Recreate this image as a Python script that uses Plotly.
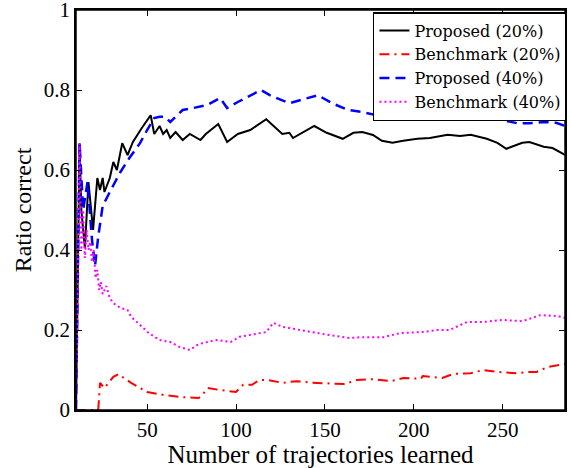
import plotly.graph_objects as go

# Proposed (20%)
p20_x = [10, 12, 13, 15, 17, 18, 19.6, 22, 23.5, 25, 26, 29, 31, 33, 36, 39, 42, 47, 52,
         54, 57, 59, 61, 63, 66, 70, 74, 80, 83, 90, 95, 101, 108, 117, 126, 130, 132,
         144, 151, 160, 166, 171, 177, 182, 188, 194, 202, 209, 219, 226, 232, 241, 247,
         252, 261, 265, 273, 278, 285]
p20_y = [0, 0.667, 0.5, 0.405, 0.57, 0.525, 0.45, 0.58, 0.55, 0.58, 0.545, 0.58, 0.62, 0.6,
         0.667, 0.637, 0.67, 0.705, 0.737, 0.69, 0.71, 0.69, 0.70, 0.68, 0.695, 0.675, 0.69,
         0.675, 0.69, 0.715, 0.67, 0.69, 0.70, 0.727, 0.69, 0.693, 0.68, 0.71, 0.693, 0.678,
         0.693, 0.695, 0.6875, 0.673, 0.668, 0.673, 0.678, 0.68, 0.688, 0.685, 0.688, 0.678,
         0.668, 0.653, 0.668, 0.67, 0.658, 0.655, 0.638]

# Benchmark (20%)
b20_x = [10, 22.5, 23.5, 26, 31, 34, 36, 41, 50, 60, 70, 79, 81, 84, 91, 100, 104, 109, 113,
         118, 126, 134, 143, 153, 161, 168, 177, 187, 194, 204, 205, 216, 222, 232, 239, 247,
         258, 265, 269, 275, 284, 285]
b20_y = [0, 0, 0.068, 0.055, 0.083, 0.09, 0.083, 0.068, 0.045, 0.037, 0.032, 0.03, 0.037,
         0.055, 0.05, 0.045, 0.063, 0.063, 0.075, 0.075, 0.068, 0.072, 0.068, 0.067, 0.065,
         0.075, 0.077, 0.072, 0.08, 0.078, 0.085, 0.08, 0.09, 0.092, 0.1, 0.095, 0.092, 0.095,
         0.095, 0.107, 0.113, 0.115]

# Proposed (40%)
p40_x = [10, 12, 14, 16.5, 19, 20.7, 22.4, 25, 29, 33, 35, 40, 46, 50, 52, 54, 57, 60, 63,
         70, 76, 84, 91, 95, 101, 108, 114, 119, 130, 146, 154, 163, 171, 183, 188, 200,
         207, 216, 230, 239, 250, 258, 265, 273, 280, 285]
p40_y = [0, 0.667, 0.5, 0.57, 0.425, 0.36, 0.43, 0.51, 0.545, 0.58, 0.595, 0.63, 0.667, 0.70,
         0.715, 0.73, 0.733, 0.733, 0.72, 0.75, 0.755, 0.763, 0.78, 0.755, 0.77, 0.787, 0.80,
         0.787, 0.767, 0.787, 0.767, 0.75, 0.745, 0.733, 0.727, 0.733, 0.73, 0.738, 0.73,
         0.742, 0.725, 0.717, 0.717, 0.72, 0.718, 0.71]

# Benchmark (40%)
b40_x = [10, 12, 13, 14, 15, 16, 17, 18, 19, 20, 21, 22, 23, 24, 25, 27, 29, 31, 35, 39, 41,
         46, 51, 57, 63, 68, 74, 78, 81, 89, 97, 102, 112, 117, 121, 126, 136, 146, 153, 164,
         170, 183, 192, 205, 213, 220, 230, 239, 250, 261, 271, 281, 285]
b40_y = [0, 0.667, 0.40, 0.5, 0.38, 0.45, 0.40, 0.42, 0.37, 0.40, 0.33, 0.35, 0.30, 0.32,
         0.29, 0.31, 0.28, 0.267, 0.255, 0.25, 0.233, 0.212, 0.192, 0.175, 0.17, 0.158, 0.15,
         0.162, 0.167, 0.175, 0.17, 0.183, 0.192, 0.195, 0.218, 0.208, 0.2, 0.192, 0.187,
         0.18, 0.182, 0.182, 0.192, 0.195, 0.2, 0.2, 0.22, 0.22, 0.225, 0.222, 0.237, 0.235,
         0.23]

y_ticks = [0, 0.2, 0.4, 0.6, 0.8, 1]
y_labels = ["0", "0.2", "0.4", "0.6", "0.8", "1"]
x_ticks = [50, 100, 150, 200, 250]

FONT = "Liberation Serif"
LEG_FONT = "DejaVu Serif"

fig = go.Figure()
fig.add_trace(go.Scatter(x=p20_x, y=p20_y, mode="lines", name="Proposed (20%)",
                         line=dict(color="black", width=2)))
fig.add_trace(go.Scatter(x=b20_x, y=b20_y, mode="lines", name="Benchmark (20%)",
                         line=dict(color="red", width=2, dash="10px,5px,2px,5px")))
fig.add_trace(go.Scatter(x=p40_x, y=p40_y, mode="lines", name="Proposed (40%)",
                         line=dict(color="blue", width=2.5, dash="10px,6px")))
fig.add_trace(go.Scatter(x=b40_x, y=b40_y, mode="lines", name="Benchmark (40%)",
                         line=dict(color="magenta", width=2, dash="2px,3px")))

axis_common = dict(showgrid=False, zeroline=False, showline=True, linecolor="black",
                   linewidth=1.5, mirror="allticks", ticks="inside", ticklen=6,
                   tickcolor="black", tickwidth=1, ticklabeloverflow="allow",
                   tickfont=dict(family=FONT, size=21, color="black"))

fig.update_xaxes(range=[10, 285], tickvals=x_ticks,
                 title=dict(text="Number of trajectories learned",
                            font=dict(family=FONT, size=25, color="black"), standoff=0),
                 **axis_common)
fig.update_yaxes(range=[0, 1], tickvals=y_ticks, ticktext=y_labels,
                 title=dict(text="Ratio correct",
                            font=dict(family=FONT, size=24, color="black"), standoff=5),
                 **axis_common)

# plot frame
fig.add_shape(type="rect", xref="paper", yref="paper", x0=0, x1=1, y0=0, y1=1,
              line=dict(color="black", width=1.5), layer="above")

fig.update_layout(
    width=571, height=468,
    margin=dict(l=76, r=6, t=10, b=58, autoexpand=False),
    plot_bgcolor="white", paper_bgcolor="white",
    font=dict(family=FONT, color="black"),
    legend=dict(x=1.004, y=0.995, xanchor="right", yanchor="top",
                bgcolor="white", bordercolor="black", borderwidth=1.5,
                font=dict(family=LEG_FONT, size=16, color="black"),
                itemwidth=30, tracegroupgap=0),
)

fig.write_html("out.html", config={"displayModeBar": False},
               post_script="document.body.style.margin='0';")
